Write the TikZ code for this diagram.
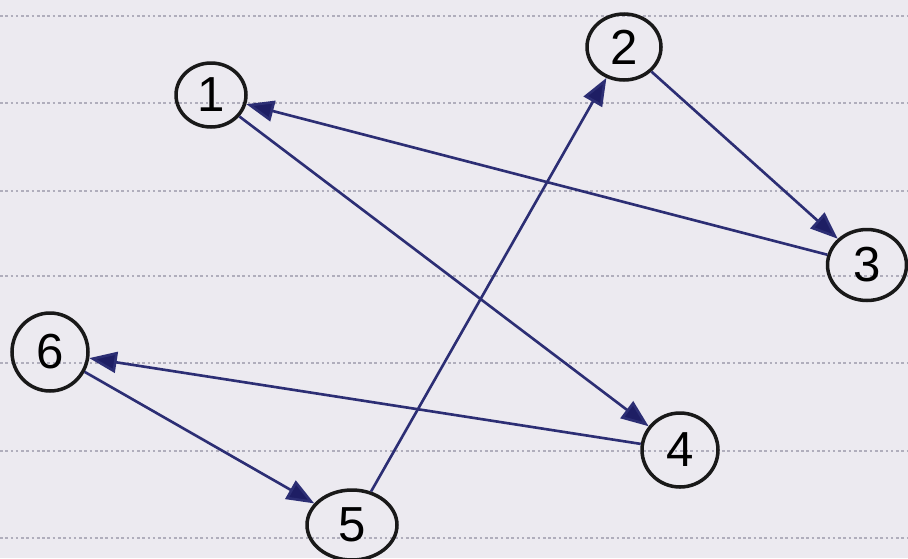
\documentclass[tikz,border=0pt]{standalone}
\usepackage{fontspec}
\setmainfont{Liberation Sans}
\usetikzlibrary{shapes.geometric,arrows.meta}
\definecolor{paper}{RGB}{236,234,240}
\definecolor{rule}{RGB}{176,174,188}
\definecolor{ink}{RGB}{44,46,116}
\definecolor{tip}{RGB}{30,30,100}
\tikzset{
  vert/.style={ellipse,draw=black!90,line width=2pt,inner sep=0pt,
    font=\fontsize{28}{28}\selectfont},
  edge/.style={draw=ink,line width=1.5pt,
    -{Triangle[length=0.55cm,width=0.42cm,fill=tip]}},
  ruled/.style={draw=rule,line width=1.5pt,dash pattern=on 1.5pt off 1.5pt}
}
\begin{document}
\begin{tikzpicture}[x=0.02cm,y=-0.02cm]
\useasboundingbox (0,0) rectangle (908,558);
\fill[paper] (0,0) rectangle (908,558);
\foreach \yy in {16,103,191,276,363,451,538}
  \draw[ruled] (0,\yy) -- (908,\yy);
\node[vert, minimum width=1.4cm, minimum height=1.28cm] (n1) at (211,95) {1};
\node[vert, minimum width=1.48cm, minimum height=1.32cm] (n2) at (624,47) {2};
\node[vert, minimum width=1.58cm, minimum height=1.42cm] (n3) at (867,265) {3};
\node[vert, minimum width=1.52cm, minimum height=1.48cm] (n4) at (680,450) {4};
\node[vert, minimum width=1.8cm, minimum height=1.4cm] (n5) at (352,525) {5};
\node[vert, minimum width=1.52cm, minimum height=1.56cm] (n6) at (50,352) {6};
\draw[edge] (n3) -- (n1);
\draw[edge] (n1) -- (n4);
\draw[edge] (n2) -- (n3);
\draw[edge] (n5) -- (n2);
\draw[edge] (n4) -- (n6);
\draw[edge] (n6) -- (n5);
\end{tikzpicture}
\end{document}
